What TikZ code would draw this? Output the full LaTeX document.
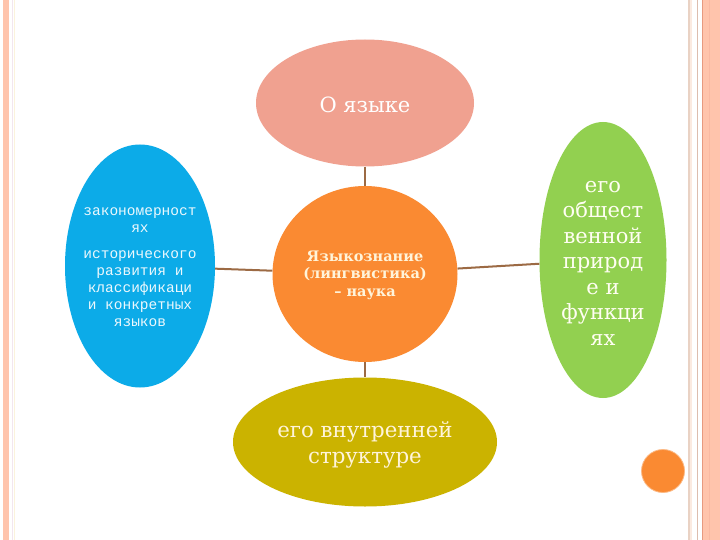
\documentclass[tikz,border=0pt]{standalone}
\usepackage{fontspec}
\setmainfont{DejaVu Serif}
\newfontfamily\monofam{Liberation Mono}
\usetikzlibrary{shapes.geometric}
\definecolor{salmonfill}{HTML}{F0A190}
\definecolor{bluefill}{HTML}{0CABE8}
\definecolor{orangefill}{HTML}{FA8A32}
\definecolor{greenfill}{HTML}{92D050}
\definecolor{olivefill}{HTML}{CBB300}
\definecolor{linkbrown}{HTML}{9C6A44}
\definecolor{stripe}{HTML}{FFC4AC}
\definecolor{creamtext}{HTML}{FFF4DA}
\definecolor{sA}{HTML}{F3E6EE}
\definecolor{sB}{HTML}{FBF3DC}
\definecolor{sC}{HTML}{E9D2C4}
\definecolor{sD}{HTML}{FBEAE0}
\definecolor{sE}{HTML}{DDBDAE}
\definecolor{sF}{HTML}{E79A80}
\definecolor{sG}{HTML}{F9B9A2}
\tikzset{
  blob/.style={ellipse, inner sep=0pt, draw=none},
  link/.style={draw=linkbrown, line width=2pt},
  lbl/.style={align=center, inner sep=0pt},
}
\begin{document}
\begin{tikzpicture}[x=1pt,y=-1pt]
\useasboundingbox (0,0) rectangle (720,540);
\fill[white] (0,0) rectangle (720,540);
% page border stripes
\fill[stripe] (3,0) rectangle (9,540);
\fill[sA] (11.5,0) rectangle (12.5,540);
\fill[sB] (14,0) rectangle (15,540);
\fill[sC] (688,0) rectangle (689.5,540);
\fill[sD] (690,0) rectangle (692,540);
\fill[sE] (696.5,0) rectangle (698,540);
\fill[sF] (701.5,0) rectangle (703,540);
\fill[stripe] (703,0) rectangle (720,540);
\fill[sG] (708.5,0) rectangle (709.5,540);

% shapes
\node[blob, fill=salmonfill, minimum width=218pt, minimum height=127pt] (top) at (365,103) {};
\node[blob, fill=orangefill, minimum width=185pt, minimum height=176pt] (hub) at (365,274) {};
\node[blob, fill=bluefill, minimum width=150pt, minimum height=243pt] (left) at (140,266) {};
\node[blob, fill=greenfill, minimum width=127pt, minimum height=276pt] (right) at (603,260) {};
\node[blob, fill=olivefill, minimum width=264pt, minimum height=129pt] (bottom) at (365,442) {};
\node[circle, fill=orangefill, draw=orangefill!60!white, line width=0.8pt, minimum size=43pt, inner sep=0pt] (dot) at (663,471) {};

% connectors
\draw[link] (top) -- (hub);
\draw[link] (hub) -- (bottom);
\draw[link] (left) -- (hub);
\draw[link] (hub) -- (right);

% texts
\node[lbl, text=white, font=\fontsize{21}{24}\selectfont] (topt) at (365,105) {О языке};
\node[lbl, text=creamtext, font=\fontsize{14.5}{17.5}\selectfont\bfseries] (hubt) at (365,275) {Языкознание\\(лингвистика)\\– наука};
\node[lbl, text=white!92!bluefill, font=\monofam\fontsize{14.5}{17}\selectfont] (leftt1) at (140,220.5) {закономерност\\ях};
\node[lbl, text=white!92!bluefill, font=\monofam\fontsize{14.5}{17}\selectfont] (leftt2) at (140,289) {исторического\\развития и\\классификаци\\и конкретных\\языков};
\node[lbl, text=white!95!yellow, font=\fontsize{21}{25.5}\selectfont] (rightt) at (603,263) {его\\общест\\венной\\природ\\е и\\функци\\ях};
\node[lbl, text=creamtext, font=\fontsize{21.3}{26}\selectfont] (bottomt) at (365,445) {его внутренней\\структуре};
\end{tikzpicture}
\end{document}
